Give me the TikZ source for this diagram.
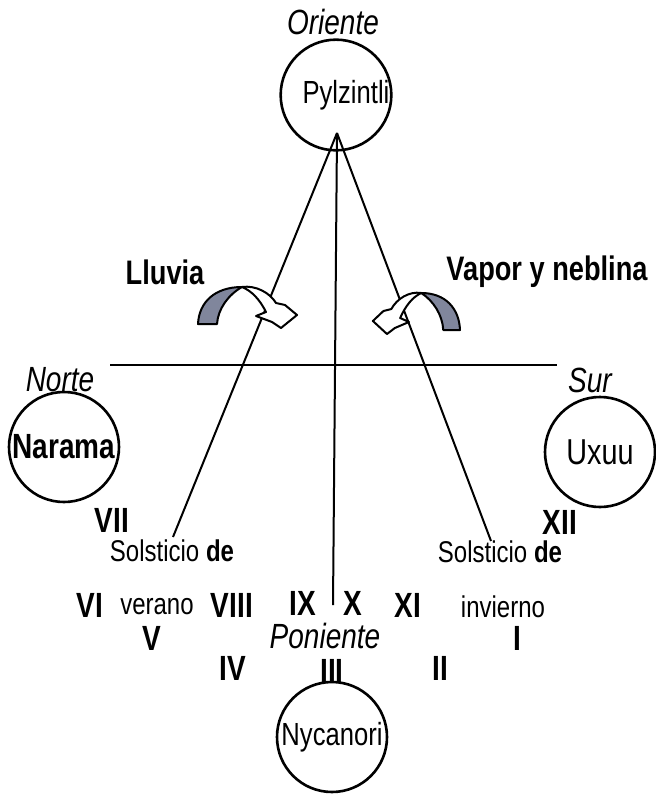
\documentclass[tikz,border=0pt]{standalone}
\usepackage{fontspec}
\setmainfont[FakeStretch=0.8]{Liberation Sans}
\usetikzlibrary{positioning}
\definecolor{ribbon}{RGB}{128,134,156}

\begin{document}
\begin{tikzpicture}[
        x=0.5pt, y=-0.5pt,
        planet/.style={circle, draw, line width=1.3pt, minimum size=55pt,
                       inner sep=0pt, font=\fontsize{16}{18}\selectfont},
        cardinal/.style={inner sep=0.5pt, font=\fontsize{17.5}{20}\selectfont\itshape},
        numeral/.style={inner sep=0.5pt, font=\fontsize{17.5}{20}\selectfont\bfseries},
        season/.style={inner sep=0.5pt, font=\fontsize{15}{17}\selectfont},
        weather/.style={inner sep=0.5pt, font=\fontsize{17}{20}\selectfont\bfseries},
        line/.style={draw, line width=1pt},
        band/.style={draw, line width=1pt, line join=round}
    ]
    \useasboundingbox (0,0) rectangle (655,802);

    % the four houses of the sun
    \node [planet] (pylz) at (336,95) {\hspace*{10pt}Pylzintli};
    \node [planet, font=\fontsize{17.5}{20}\selectfont\bfseries] (narama) at (64,447) {Narama};
    \node [planet, font=\fontsize{18}{20}\selectfont] (uxuu) at (600,452) {Uxuu};
    \node [planet] (nycanori) at (332,737) {Nycanori};

    \node [cardinal] (oriente) at (333,22) {Oriente};
    \node [cardinal] (norte) at (60,380) {Norte};
    \node [cardinal] (sur) at (590,380) {Sur};
    \node [cardinal] (poniente) at (325,636) {Poniente};

    \node [weather] (lluvia) at (165,272) {Lluvia};
    \node [weather] (vapor) at (547,272) {Vapor y neblina};

    % months
    \node [numeral] (m7) at (112,520) {VII};
    \node [numeral] (m12) at (560,522) {XII};
    \node [numeral] (m6) at (90,605) {VI};
    \node [numeral] (m8) at (232,605) {VIII};
    \node [numeral] (m9) at (303,603) {IX};
    \node [numeral] (m10) at (353,603) {X};
    \node [numeral] (m11) at (408,605) {XI};
    \node [numeral] (m5) at (152,638) {V};
    \node [numeral] (m1) at (517,638) {I};
    \node [numeral] (m4) at (233,668) {IV};
    \node [numeral] (m3) at (332,671) {III};
    \node [numeral] (m2) at (440,668) {II};

    \node [season] (solver) at (172,551) {Solsticio \textbf{de}};
    \node [season] (verano) at (157,607) {verano};
    \node [season] (solinv) at (500,552) {Solsticio \textbf{de}};
    \node [season] (invierno) at (503,607) {invierno};

    % rays from the east
    \coordinate (apex) at (337,133);
    \coordinate (summer) at (173,537);
    \coordinate (winter) at (491,541);
    \coordinate (west) at (333,605);
    \coordinate (horizonw) at (110,365);
    \coordinate (horizone) at (557,365);

    \draw [line] (apex) -- (summer);
    \draw [line] (apex) -- (winter);
    \draw [line] (apex) -- (west);
    \draw [line] (horizonw) -- (horizone);

    % curved arrows
    \begin{scope}[shift={(198,324)}]
        \draw [band, fill=ribbon] (0,0) .. controls (1,-22) and (17,-37) .. (44,-37)
            .. controls (30,-29) and (20,-15) .. (19,0) -- cycle;
        \draw [band, fill=white] (44,-37) .. controls (58,-39) and (72,-31) .. (78,-21)
            -- (87,-19) -- (99,-9) -- (83,4) -- (74,-2) -- (58,-8) -- (68,-12)
            .. controls (62,-24) and (54,-33) .. (44,-37) -- cycle;
    \end{scope}
    \begin{scope}[shift={(460,330)}, xscale=-0.88]
        \draw [band, fill=ribbon] (0,0) .. controls (1,-22) and (17,-37) .. (44,-37)
            .. controls (30,-29) and (20,-15) .. (19,0) -- cycle;
        \draw [band, fill=white] (44,-37) .. controls (58,-39) and (72,-31) .. (78,-21)
            -- (87,-19) -- (99,-9) -- (83,4) -- (74,-2) -- (58,-8) -- (68,-12)
            .. controls (62,-24) and (54,-33) .. (44,-37) -- cycle;
    \end{scope}
\end{tikzpicture}
\end{document}
